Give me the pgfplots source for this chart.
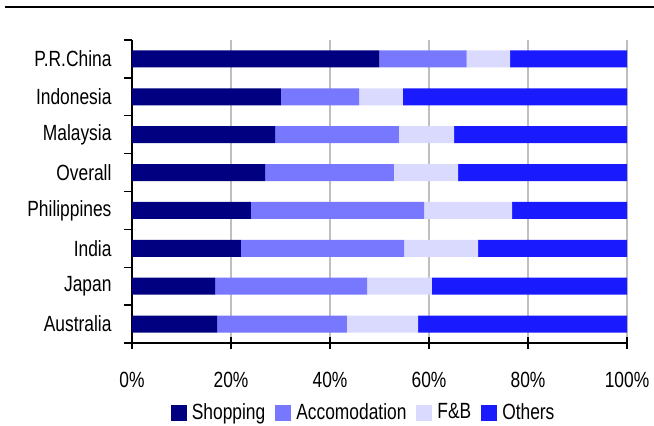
\documentclass[border=0pt]{standalone}
\usepackage{pgfplots}
\usepackage{pgfplotstable}
\pgfplotsset{compat=1.18}
\usepackage{fontspec}
\setmainfont{Liberation Sans}[FakeStretch=0.79]

\definecolor{shop}{HTML}{000080}
\definecolor{accom}{HTML}{7878FF}
\definecolor{fnb}{HTML}{DADAFF}
\definecolor{other}{HTML}{1A1AFF}

% Share of visitor spending by category (%), bottom row first
\pgfplotstableread{
idx country     shop  accom fb   other
0   Australia   17.2  26.2  14.4 42.2
1   Japan       16.8  30.7  13.1 39.4
2   India       22.0  33.0  14.9 30.1
3   Philippines 24.0  35.0  17.8 23.2
4   Overall     26.9  26.0  13.0 34.1
5   Malaysia    28.9  25.0  11.2 34.9
6   Indonesia   30.1  15.8   8.8 45.3
7   China       50.0  17.6   8.8 23.6
}\shares

\begin{document}
\fontsize{22}{26}\selectfont
\begin{tikzpicture}
\path[use as bounding box] (-132pt,-83pt) rectangle (522pt,343pt);
\draw[line width=2.5pt] (-127pt,336pt) -- (522pt,336pt);
\begin{axis}[
  at={(0pt,0pt)}, anchor=south west,
  scale only axis, width=495pt, height=303pt,
  xbar stacked, bar width=17pt,
  xmin=0, xmax=100, ymin=-0.5, ymax=7.5,
  axis lines*=left,
  axis line style={line width=1.3pt, black},
  xtick={0,20,...,100},
  xticklabels={0\%,20\%,40\%,60\%,80\%,100\%},
  ytick={0,...,7},
  yticklabels={Australia,Japan,India,Philippines,Overall,Malaysia,Indonesia,P.R.China},
  minor ytick={-0.5,0.5,...,7.5},
  tick align=center,
  major tick length=12pt,
  minor tick length=8pt,
  major y tick style={draw=none},
  minor y tick style={line width=1.3pt, black, xshift=-4pt},
  major x tick style={line width=1.3pt, black},
  xmajorgrids,
  major grid style={line width=1.3pt, color=black!25},
  xticklabel style={yshift=-16pt},
  yticklabel style={anchor=east, xshift=-7pt},
  legend style={at={(0.467,-0.231)}, anchor=center, draw=none, fill=none,
    legend columns=4,
    /tikz/every odd column/.append style={column sep=4pt},
    /tikz/every even column/.append style={column sep=9pt},
    nodes={inner sep=1pt}},
  legend image code/.code={\fill[#1] (0pt,-8pt) rectangle (16pt,8pt);},
]
\addplot[fill=shop, draw=none]  table[x=shop,  y=idx] {\shares};
\addplot[fill=accom, draw=none] table[x=accom, y=idx] {\shares};
\addplot[fill=fnb, draw=none]   table[x=fb,    y=idx] {\shares};
\addplot[fill=other, draw=none] table[x=other, y=idx] {\shares};
\legend{Shopping,Accomodation,F\&B,Others}
\end{axis}
\end{tikzpicture}
\end{document}
